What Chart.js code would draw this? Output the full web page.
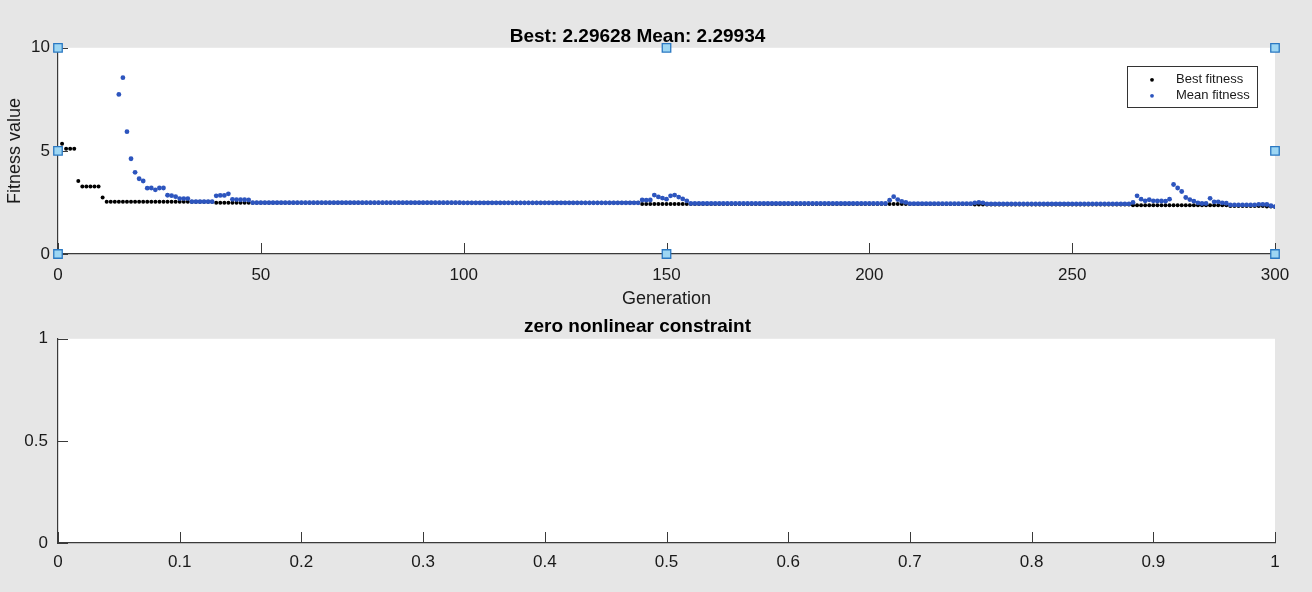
<!DOCTYPE html>
<html>
<head>
<meta charset="utf-8">
<title>GA fitness</title>
<script src="https://cdn.jsdelivr.net/npm/chart.js@4.4.1/dist/chart.umd.min.js"></script>
<style>
  html, body { margin: 0; padding: 0; background: #e6e6e6; }
  #wrap { position: relative; width: 1312px; height: 592px; }
  canvas { position: absolute; left: 0; }
  #fitness { top: 0; }
  #constraint { top: 310px; }
</style>
</head>
<body>
<div id="wrap">
  <canvas id="fitness" width="1312" height="310"></canvas>
  <canvas id="constraint" width="1312" height="282"></canvas>
</div>
<script>
// best penalty value per generation (0..300)
const bestFitness = [
  5.10, 5.35, 5.10, 5.10, 5.10, 3.54, 3.27, 3.27, 3.27, 3.27,
  3.27, 2.74, 2.53, 2.53, 2.53, 2.53, 2.53, 2.53, 2.53, 2.53,
  2.53, 2.53, 2.53, 2.53, 2.53, 2.53, 2.53, 2.53, 2.53, 2.53,
  2.53, 2.53, 2.53, 2.53, 2.53, 2.53, 2.53, 2.53, 2.53, 2.48,
  2.48, 2.48, 2.48, 2.48, 2.48, 2.48, 2.48, 2.48, 2.48, 2.48,
  2.48, 2.48, 2.48, 2.48, 2.48, 2.48, 2.48, 2.48, 2.48, 2.48,
  2.48, 2.48, 2.48, 2.48, 2.48, 2.48, 2.48, 2.48, 2.48, 2.48,
  2.48, 2.48, 2.48, 2.48, 2.48, 2.48, 2.48, 2.48, 2.48, 2.48,
  2.48, 2.48, 2.48, 2.48, 2.48, 2.48, 2.48, 2.48, 2.48, 2.48,
  2.48, 2.48, 2.48, 2.48, 2.48, 2.48, 2.48, 2.48, 2.48, 2.48,
  2.48, 2.48, 2.48, 2.48, 2.48, 2.48, 2.48, 2.48, 2.48, 2.48,
  2.48, 2.48, 2.48, 2.48, 2.48, 2.48, 2.48, 2.48, 2.48, 2.48,
  2.48, 2.48, 2.48, 2.48, 2.48, 2.48, 2.48, 2.48, 2.48, 2.48,
  2.48, 2.48, 2.48, 2.48, 2.48, 2.48, 2.48, 2.48, 2.48, 2.48,
  2.48, 2.48, 2.48, 2.48, 2.43, 2.43, 2.43, 2.43, 2.43, 2.43,
  2.43, 2.43, 2.43, 2.43, 2.43, 2.43, 2.43, 2.43, 2.43, 2.43,
  2.43, 2.43, 2.43, 2.43, 2.43, 2.43, 2.43, 2.43, 2.43, 2.43,
  2.43, 2.43, 2.43, 2.43, 2.43, 2.43, 2.43, 2.43, 2.43, 2.43,
  2.43, 2.43, 2.43, 2.43, 2.43, 2.43, 2.43, 2.43, 2.43, 2.43,
  2.43, 2.43, 2.43, 2.43, 2.43, 2.43, 2.43, 2.43, 2.43, 2.43,
  2.43, 2.43, 2.43, 2.43, 2.43, 2.42, 2.42, 2.42, 2.42, 2.42,
  2.42, 2.42, 2.42, 2.42, 2.42, 2.42, 2.42, 2.42, 2.42, 2.42,
  2.42, 2.42, 2.42, 2.42, 2.42, 2.42, 2.40, 2.40, 2.40, 2.40,
  2.40, 2.40, 2.40, 2.40, 2.40, 2.40, 2.40, 2.40, 2.40, 2.40,
  2.40, 2.40, 2.40, 2.40, 2.40, 2.40, 2.40, 2.40, 2.40, 2.40,
  2.40, 2.40, 2.40, 2.40, 2.40, 2.40, 2.40, 2.40, 2.40, 2.40,
  2.40, 2.40, 2.40, 2.40, 2.40, 2.36, 2.36, 2.36, 2.36, 2.36,
  2.36, 2.36, 2.36, 2.36, 2.36, 2.36, 2.36, 2.36, 2.36, 2.36,
  2.36, 2.36, 2.36, 2.36, 2.36, 2.36, 2.36, 2.36, 2.36, 2.33,
  2.33, 2.33, 2.33, 2.33, 2.33, 2.33, 2.33, 2.33, 2.30, 2.30,
  2.29628
];

// population mean per generation; early generations sit above the y range
const meanFitness = [
  null, null, null, null, null, null, null, null, null, null,
  null, null, null, null, null, 7.74, 8.55, 5.93, 4.62, 3.96,
  3.65, 3.54, 3.19, 3.20, 3.11, 3.20, 3.20, 2.85, 2.83, 2.78,
  2.69, 2.69, 2.69, 2.54, 2.54, 2.54, 2.54, 2.54, 2.54, 2.82,
  2.84, 2.84, 2.92, 2.65, 2.64, 2.63, 2.63, 2.62, 2.49, 2.49,
  2.49, 2.49, 2.49, 2.49, 2.49, 2.49, 2.49, 2.49, 2.49, 2.49,
  2.49, 2.49, 2.49, 2.49, 2.49, 2.49, 2.49, 2.49, 2.49, 2.49,
  2.49, 2.49, 2.49, 2.49, 2.49, 2.49, 2.49, 2.49, 2.49, 2.49,
  2.49, 2.49, 2.49, 2.49, 2.49, 2.49, 2.49, 2.49, 2.49, 2.49,
  2.49, 2.49, 2.49, 2.49, 2.49, 2.49, 2.49, 2.49, 2.49, 2.49,
  2.48, 2.48, 2.48, 2.48, 2.48, 2.48, 2.48, 2.48, 2.48, 2.48,
  2.48, 2.48, 2.48, 2.48, 2.48, 2.48, 2.48, 2.48, 2.48, 2.48,
  2.48, 2.48, 2.48, 2.48, 2.48, 2.48, 2.48, 2.48, 2.48, 2.48,
  2.48, 2.48, 2.48, 2.48, 2.48, 2.48, 2.48, 2.48, 2.48, 2.48,
  2.48, 2.48, 2.48, 2.48, 2.62, 2.61, 2.62, 2.86, 2.77, 2.71,
  2.66, 2.82, 2.86, 2.76, 2.67, 2.58, 2.45, 2.45, 2.45, 2.45,
  2.45, 2.45, 2.45, 2.45, 2.45, 2.45, 2.45, 2.45, 2.45, 2.45,
  2.45, 2.45, 2.45, 2.45, 2.45, 2.45, 2.45, 2.45, 2.45, 2.45,
  2.45, 2.45, 2.45, 2.45, 2.45, 2.45, 2.45, 2.45, 2.45, 2.45,
  2.45, 2.45, 2.45, 2.45, 2.45, 2.45, 2.45, 2.45, 2.45, 2.45,
  2.45, 2.45, 2.45, 2.45, 2.45, 2.61, 2.78, 2.64, 2.55, 2.50,
  2.44, 2.44, 2.44, 2.44, 2.44, 2.44, 2.44, 2.44, 2.44, 2.44,
  2.44, 2.44, 2.44, 2.44, 2.44, 2.44, 2.48, 2.50, 2.48, 2.43,
  2.43, 2.43, 2.43, 2.43, 2.43, 2.43, 2.43, 2.43, 2.43, 2.43,
  2.43, 2.43, 2.43, 2.43, 2.43, 2.43, 2.43, 2.43, 2.43, 2.43,
  2.43, 2.43, 2.43, 2.43, 2.43, 2.43, 2.43, 2.43, 2.43, 2.43,
  2.43, 2.43, 2.43, 2.43, 2.43, 2.50, 2.82, 2.66, 2.58, 2.63,
  2.58, 2.57, 2.57, 2.56, 2.66, 3.37, 3.20, 3.03, 2.74, 2.64,
  2.56, 2.48, 2.45, 2.45, 2.70, 2.53, 2.53, 2.48, 2.46, 2.38,
  2.38, 2.38, 2.38, 2.38, 2.38, 2.38, 2.41, 2.41, 2.40, 2.34,
  2.29934
];

const generations = bestFitness.map((_, i) => i);

// selection handles on the fitness axes (corners and edge midpoints)
const handleGen = [0, 0, 0, 150, 150, 300, 300, 300];
const handleVal = [0, 5, 10, 0, 10, 0, 5, 10];

const genTicks = [0, 50, 100, 150, 200, 250, 300];
const fitTicks = [0, 5, 10];
const unitXTicks = [0, 0.1, 0.2, 0.3, 0.4, 0.5, 0.6, 0.7, 0.8, 0.9, 1];
const unitYTicks = [0, 0.5, 1];

const axisColor = '#3a3a3a';
const textColor = '#1a1a1a';

Chart.defaults.font.family = '"Liberation Sans", Arial, Helvetica, sans-serif';
Chart.defaults.color = textColor;

const fixWidth = w => scale => { scale.width = w; };
const fixHeight = h => scale => { scale.height = h; };
const useTicks = values => scale => { scale.ticks = values.map(v => ({ value: v })); };

// white plot box behind everything
const plotBackground = {
  id: 'plotBackground',
  beforeDraw(chart) {
    const { ctx, chartArea: a } = chart;
    ctx.save();
    ctx.fillStyle = '#ffffff';
    ctx.fillRect(a.left, a.top, a.right - a.left, a.bottom - a.top);
    ctx.restore();
  }
};

// tick marks point into the plot box
const innerTicks = {
  id: 'innerTicks',
  beforeDatasetsDraw(chart) {
    const { ctx, chartArea: a, scales: { x, y } } = chart;
    ctx.save();
    ctx.strokeStyle = axisColor;
    ctx.lineWidth = 1;
    ctx.beginPath();
    x.ticks.forEach(t => {
      const px = Math.round(x.getPixelForValue(t.value)) + 0.5;
      ctx.moveTo(px, a.bottom);
      ctx.lineTo(px, a.bottom - 11);
    });
    y.ticks.forEach(t => {
      const py = Math.round(y.getPixelForValue(t.value)) + 0.5;
      ctx.moveTo(a.left, py);
      ctx.lineTo(a.left + 10, py);
    });
    ctx.stroke();
    ctx.restore();
  }
};

// boxed legend in the upper right of the plot
const boxedLegend = {
  id: 'boxedLegend',
  afterDraw(chart) {
    const { ctx, chartArea: a } = chart;
    const items = chart.data.datasets.filter(d => d.label);
    const w = 130, h = 41;
    const left = a.right - 18 - w, top = a.top + 18;
    ctx.save();
    ctx.fillStyle = '#ffffff';
    ctx.fillRect(left, top, w, h);
    ctx.strokeStyle = '#333333';
    ctx.lineWidth = 1;
    ctx.strokeRect(Math.round(left) + 0.5, Math.round(top) + 0.5, w, h);
    ctx.font = '13px "Liberation Sans", Arial, sans-serif';
    ctx.textBaseline = 'middle';
    items.forEach((d, i) => {
      const cy = top + 14 + i * 16;
      ctx.fillStyle = d.backgroundColor;
      ctx.beginPath();
      ctx.arc(left + 25, cy, 1.9, 0, Math.PI * 2);
      ctx.fill();
      ctx.fillStyle = textColor;
      ctx.fillText(d.label, left + 49, cy);
    });
    ctx.restore();
  }
};

const axisBase = {
  type: 'linear',
  grid: { display: false, drawTicks: false },
  border: { display: true, color: axisColor, width: 1.2 },
};

new Chart(document.getElementById('fitness'), {
  type: 'scatter',
  data: {
    datasets: [
      {
        label: 'Best fitness',
        data: generations.map(g => ({ x: g, y: bestFitness[g] })),
        backgroundColor: '#000000',
        borderWidth: 0,
        pointRadius: 2.0,
        order: 2
      },
      {
        label: 'Mean fitness',
        data: generations.map(g => ({ x: g, y: meanFitness[g] })),
        backgroundColor: '#2d55be',
        borderWidth: 0,
        pointRadius: 2.4,
        order: 1
      },
      {
        data: handleGen.map((g, i) => ({ x: g, y: handleVal[i] })),
        pointStyle: 'rect',
        pointRadius: 6,
        backgroundColor: '#9dd6f3',
        borderColor: '#2a78c2',
        borderWidth: 1.3,
        clip: false,
        order: 0
      }
    ]
  },
  options: {
    responsive: false,
    animation: false,
    events: [],
    layout: { padding: { left: 0, right: 37, top: 0, bottom: 0 } },
    plugins: {
      legend: { display: false },
      tooltip: { enabled: false },
      title: {
        display: true,
        text: 'Best: ' + bestFitness[300] + ' Mean: ' + meanFitness[300],
        color: '#000000',
        font: { size: 19, weight: 'bold' },
        padding: { top: 25, bottom: 0 }
      }
    },
    scales: {
      x: {
        ...axisBase,
        min: 0,
        max: 300,
        afterBuildTicks: useTicks(genTicks),
        afterFit: fixHeight(56),
        ticks: { padding: 11, font: { size: 17 }, maxRotation: 0, autoSkip: false, callback: v => String(v) },
        title: { display: true, text: 'Generation', font: { size: 18 }, padding: { top: 0, bottom: 0 } }
      },
      y: {
        ...axisBase,
        min: 0,
        max: 10,
        afterBuildTicks: useTicks(fitTicks),
        afterFit: fixWidth(58),
        ticks: { padding: 8, font: { size: 17 }, callback: v => String(v) },
        title: { display: true, text: 'Fitness value', font: { size: 18 }, padding: { top: 4, bottom: 0 } }
      }
    }
  },
  plugins: [plotBackground, innerTicks, boxedLegend]
});

new Chart(document.getElementById('constraint'), {
  type: 'scatter',
  data: { datasets: [] },
  options: {
    responsive: false,
    animation: false,
    events: [],
    layout: { padding: { left: 0, right: 37, top: 0, bottom: 0 } },
    plugins: {
      legend: { display: false },
      tooltip: { enabled: false },
      title: {
        display: true,
        text: 'zero nonlinear constraint',
        color: '#000000',
        font: { size: 19, weight: 'bold' },
        padding: { top: 5, bottom: 1 }
      }
    },
    scales: {
      x: {
        ...axisBase,
        min: 0,
        max: 1,
        afterBuildTicks: useTicks(unitXTicks),
        afterFit: fixHeight(49),
        ticks: { padding: 9, font: { size: 17 }, maxRotation: 0, autoSkip: false, callback: v => String(v) }
      },
      y: {
        ...axisBase,
        min: 0,
        max: 1,
        afterBuildTicks: useTicks(unitYTicks),
        afterFit: fixWidth(58),
        ticks: { padding: 10, font: { size: 17 }, callback: v => String(v) }
      }
    }
  },
  plugins: [plotBackground, innerTicks]
});
</script>
</body>
</html>
